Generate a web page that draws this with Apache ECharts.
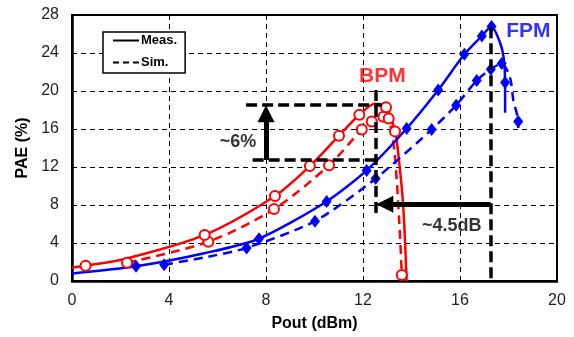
<!DOCTYPE html>
<html><head><meta charset="utf-8">
<script src="https://cdn.jsdelivr.net/npm/echarts@6/dist/echarts.min.js"></script>
<style>html,body{margin:0;padding:0;background:#fff}#c{width:574px;height:337px}</style>
</head><body><div id="c"></div>
<script>
// ---- data ----
const xTicks = [0, 4, 8, 12, 16, 20];
const yTicks = [0, 4, 8, 12, 16, 20, 24, 28];

const bpmMeasX = [0, 0.56, 2.3, 5.47, 8.37, 9.81, 11.01, 11.85, 12.5, 12.95, 13.32, 13.48, 13.66, 13.8];
const bpmMeasY = [1.4, 1.6, 2.4, 4.85, 8.95, 12.1, 15.3, 17.5, 18.65, 18.3, 15.75, 12.8, 7.8, 0];
const bpmMeasMark = [0, 1, 0, 1, 1, 1, 1, 1, 0, 1, 1, 0, 0, 0];

const bpmSimX = [2.27, 5.62, 8.33, 10.6, 11.95, 12.36, 12.84, 13.06, 13.3, 13.5, 13.6];
const bpmSimY = [1.93, 4.13, 7.57, 12.19, 15.94, 16.8, 17.3, 17.1, 13.5, 6, 0.62];
const bpmSimMark = [1, 1, 1, 1, 1, 1, 1, 1, 0, 0, 1];

const fpmMeasX = [0, 2.64, 5.5, 7.71, 10.5, 12.15, 13.8, 15.1, 16.18, 16.9, 17.3, 17.65, 17.8, 17.86, 17.86];
const fpmMeasY = [0.8, 1.55, 2.95, 4.45, 8.37, 11.64, 16.05, 20.1, 23.86, 25.8, 26.8, 25.1, 23.5, 20.9, 17.7];
const fpmMeasMark = [0, 1, 0, 1, 1, 1, 1, 1, 1, 1, 1, 0, 0, 1, 0];

const fpmSimX = [3.8, 5.5, 7.2, 10.02, 12.52, 14.83, 15.84, 16.69, 17.27, 17.72, 18.06, 18.2, 18.4, 18.4];
const fpmSimY = [1.72, 2.5, 3.48, 6.3, 10.78, 15.94, 18.5, 21.1, 22.3, 22.9, 21.45, 19.0, 16.8, 16.1];
const fpmSimMark = [1, 0, 1, 1, 1, 1, 1, 1, 1, 1, 0, 0, 1, 0];

// annotation guide lines (data units)
const guideLines = [
  [[7.18, 18.6], [12.77, 18.6]],
  [[7.45, 12.75], [12.7, 12.75]],
  [[12.54, 20.1], [12.54, 6.8]],
  [[17.26, 26.7], [17.26, 0]]
];
const arrowLines = [
  [[8.0, 12.75], [8.0, 17.6]],
  [[17.26, 8.09], [12.9, 8.09]]
];
const annoText = ['BPM', 'FPM', '~6%', '~4.5dB'];
const annoX = [12.8, 18.82, 6.85, 15.66];
const annoY = [21.6, 26.3, 14.6, 5.8];
const annoColor = ['#ff0000', '#0000ff', '#000', '#000'];

// ---- build ----
function pts(xs, ys, marks) {
  return xs.map((x, i) => marks[i] ? [x, ys[i]] : { value: [x, ys[i]], symbol: 'none' });
}
const FONT = 'Arial, "Liberation Sans", sans-serif';
const chart = echarts.init(document.getElementById('c'), null, { renderer: 'canvas' });

const red = '#ff0000', blue = '#0000ff';
const option = {
  animation: false,
  backgroundColor: '#fff',
  grid: { left: 72, right: 17, top: 15, bottom: 51, show: true, borderColor: '#000', borderWidth: 2, containLabel: false },
  legend: {
    left: 103, top: 32, orient: 'vertical',
    data: ['Meas.', 'Sim.'],
    itemWidth: 26, itemHeight: 14, itemGap: 9,
    padding: [2, 8, 4, 9],
    borderColor: '#000', borderWidth: 1.5, backgroundColor: '#fff',
    itemStyle: { opacity: 0 },
    textStyle: { fontFamily: FONT, fontWeight: 'bold', fontSize: 13, color: '#000', padding: [0, 0, 0, -3] }
  },
  xAxis: {
    type: 'value', min: xTicks[0], max: xTicks[xTicks.length - 1], interval: 4,
    name: 'Pout (dBm)', nameLocation: 'middle', nameGap: 35,
    nameTextStyle: { fontFamily: FONT, fontWeight: 'bold', fontSize: 16, color: '#000' },
    axisLine: { lineStyle: { color: '#000', width: 2.5 } },
    axisTick: { show: false },
    axisLabel: { fontFamily: FONT, fontSize: 16, color: '#222', margin: 12 },
    splitLine: { lineStyle: { color: '#000', width: 1, type: [5, 4] } }
  },
  yAxis: {
    type: 'value', min: yTicks[0], max: yTicks[yTicks.length - 1], interval: 4,
    name: 'PAE (%)', nameLocation: 'middle', nameGap: 40, nameRotate: 90,
    nameTextStyle: { fontFamily: FONT, fontWeight: 'bold', fontSize: 16, color: '#000' },
    axisLine: { lineStyle: { color: '#000', width: 2.5 } },
    axisTick: { show: false },
    axisLabel: { fontFamily: FONT, fontSize: 16, color: '#222', margin: 13 },
    splitLine: { lineStyle: { color: '#000', width: 1, type: [5, 4] } }
  },
  series: [
    { name: 'Meas.', type: 'line', data: [], symbol: 'none', color: '#000', lineStyle: { color: '#000', width: 2.5 } },
    { name: 'Sim.', type: 'line', data: [], symbol: 'none', color: '#000', lineStyle: { color: '#000', width: 2.5, type: [6, 4] } },
    { type: 'line', smooth: 0.3, data: pts(bpmSimX, bpmSimY, bpmSimMark), z: 3,
      symbol: 'emptyCircle', symbolSize: 10,
      lineStyle: { color: red, width: 2.5, type: [9, 6] }, itemStyle: { color: red, borderColor: red, borderWidth: 2 } },
    { type: 'line', smooth: 0.3, data: pts(bpmMeasX, bpmMeasY, bpmMeasMark), z: 3,
      symbol: 'emptyCircle', symbolSize: 10,
      lineStyle: { color: red, width: 2.5 }, itemStyle: { color: red, borderColor: red, borderWidth: 2 } },
    { type: 'line', smooth: 0.25, data: pts(fpmSimX, fpmSimY, fpmSimMark), z: 3,
      symbol: 'diamond', symbolSize: [10, 13],
      lineStyle: { color: blue, width: 2.5, type: [9, 6] }, itemStyle: { color: blue } },
    { type: 'line', smooth: 0.25, data: pts(fpmMeasX, fpmMeasY, fpmMeasMark), z: 3,
      symbol: 'diamond', symbolSize: [10, 13],
      lineStyle: { color: blue, width: 2.5 }, itemStyle: { color: blue } },
    { type: 'lines', coordinateSystem: 'cartesian2d', z: 5, silent: true,
      data: guideLines.map(c => ({ coords: c })),
      lineStyle: { color: '#000', width: 3.5, type: [11, 5], opacity: 1 } },
    { type: 'lines', coordinateSystem: 'cartesian2d', z: 6, silent: true,
      symbol: ['none', 'triangle'], symbolSize: 17,
      data: arrowLines.map(c => ({ coords: c })),
      lineStyle: { color: '#000', width: 5, opacity: 1 }, itemStyle: { color: '#000' } },
    { type: 'scatter', z: 7, silent: true, symbolSize: 0,
      data: annoText.map((t, i) => ({ value: [annoX[i], annoY[i]], label: { formatter: t, color: annoColor[i], fontSize: (i < 2 ? 21 : 18) } })),
      label: { show: true, position: 'inside', fontFamily: FONT, fontWeight: 'bold' } }
  ]
};
chart.setOption(option);
</script></body></html>
